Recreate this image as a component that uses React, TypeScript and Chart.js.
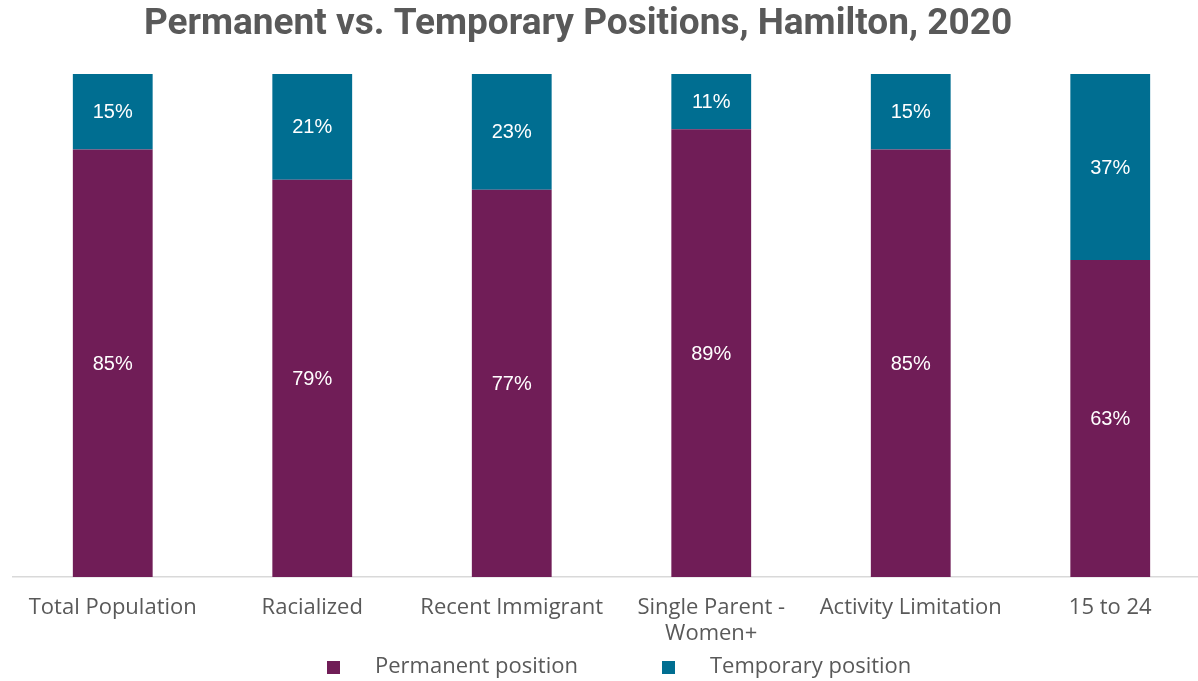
import React, { useEffect, useRef } from "react";
import { Chart, registerables } from "chart.js";

Chart.register(...registerables);

const categories: (string | string[])[] = [
  "Total Population",
  "Racialized",
  "Recent Immigrant",
  ["Single Parent -", "Women+"],
  "Activity Limitation",
  "15 to 24",
];
const permanent = [85, 79, 77, 89, 85, 63];
const temporary = [15, 21, 23, 11, 15, 37];
const seriesNames = ["Permanent position", "Temporary position"];
const titleText = "Permanent vs. Temporary Positions, Hamilton, 2020";

const PURPLE = "#701D57";
const TEAL = "#006E91";
const GRAY = "#595959";

const valueLabels = {
  id: "valueLabels",
  afterDatasetsDraw(chart: any) {
    const ctx = chart.ctx;
    ctx.save();
    ctx.fillStyle = "#FFFFFF";
    ctx.font = "20px 'Liberation Sans', Arial, sans-serif";
    ctx.textAlign = "center";
    ctx.textBaseline = "middle";
    chart.data.datasets.forEach((ds: any, di: number) => {
      const meta = chart.getDatasetMeta(di);
      meta.data.forEach((bar: any, i: number) => {
        const { x, y, base } = bar.getProps(["x", "y", "base"], true);
        ctx.fillText(ds.data[i] + "%", x, (y + base) / 2 + 1);
      });
    });
    ctx.restore();
  },
};

const titleAndLegend = {
  id: "titleAndLegend",
  afterDraw(chart: any) {
    const ctx = chart.ctx;
    ctx.save();
    ctx.fillStyle = GRAY;
    ctx.font = "bold 37px Roboto, sans-serif";
    ctx.textAlign = "center";
    ctx.textBaseline = "middle";
    ctx.fillText(titleText, 578, 25);

    const items = chart.data.datasets.map((d: any) => ({ label: d.label, color: d.backgroundColor }));
    const boxX = [327, 662];
    const ly = 667;
    ctx.font = "22px 'Open Sans', sans-serif";
    ctx.textAlign = "left";
    items.forEach((it: any, i: number) => {
      ctx.fillStyle = it.color;
      ctx.fillRect(boxX[i], ly - 6, 13, 13);
      ctx.fillStyle = GRAY;
      ctx.fillText(it.label, boxX[i] + 48, ly);
    });
    ctx.restore();
  },
};

export default function App() {
  const ref = useRef<HTMLCanvasElement>(null);
  useEffect(() => {
    document.body.style.margin = "0";
    document.body.style.overflow = "hidden";
    const chart = new Chart(ref.current as HTMLCanvasElement, {
      type: "bar",
      data: {
        labels: categories as any,
        datasets: [
          { label: seriesNames[0], data: permanent, backgroundColor: PURPLE, categoryPercentage: 0.8, barPercentage: 0.5 },
          { label: seriesNames[1], data: temporary, backgroundColor: TEAL, categoryPercentage: 0.8, barPercentage: 0.5 },
        ],
      },
      options: {
        responsive: false,
        animation: false,
        layout: { padding: { left: 13, right: 2, top: 74, bottom: 0 } },
        plugins: { legend: { display: false }, title: { display: false }, tooltip: { enabled: false } },
        scales: {
          x: {
            stacked: true,
            grid: { display: false },
            border: { display: true, color: "#D9D9D9", width: 1.5 },
            ticks: {
              color: GRAY,
              font: { family: "'Open Sans', sans-serif", size: 22, lineHeight: 1.18 },
              maxRotation: 0,
              autoSkip: false,
              padding: 10,
            },
            afterFit(scale: any) {
              scale.height = 104;
            },
          },
          y: { stacked: true, display: false, min: 0, max: 100 },
        },
      },
      plugins: [valueLabels, titleAndLegend],
    });
    return () => chart.destroy();
  }, []);
  return (
    <div style={{ width: 1198, height: 681, overflow: "hidden", position: "relative", background: "#fff" }}>
      <canvas ref={ref} width={1212} height={681} style={{ display: "block" }} />
    </div>
  );
}
